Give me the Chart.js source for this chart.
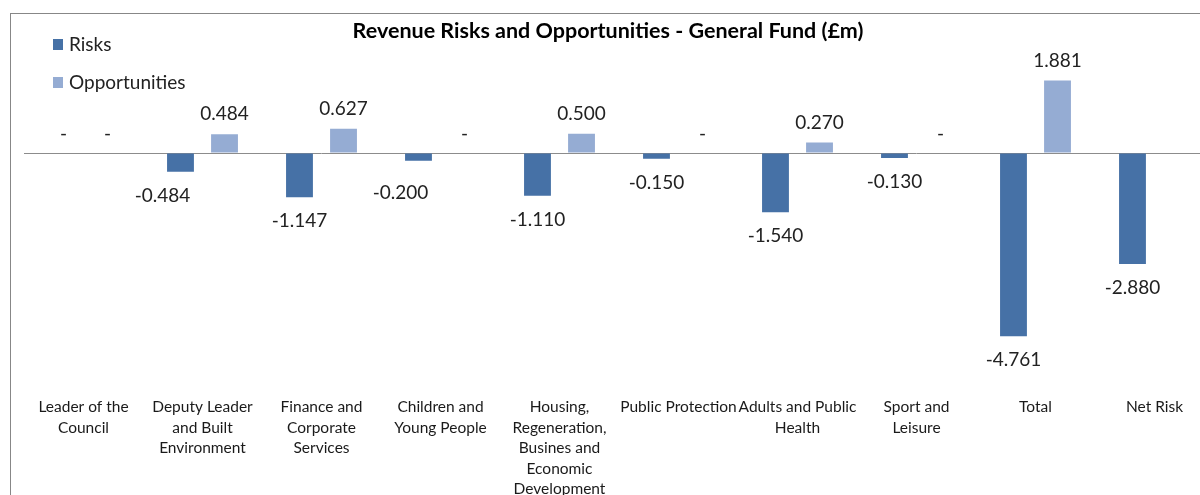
<!DOCTYPE html>
<html><head><meta charset="utf-8">
<script src="https://cdn.jsdelivr.net/npm/chart.js@4/dist/chart.umd.min.js"></script>
<style>
html,body{margin:0;padding:0;width:1200px;height:495px;overflow:hidden;background:#fff;}
#wrap{position:absolute;left:0;top:0;width:1216px;height:500px;}
#frame{position:absolute;left:10px;top:13px;width:1300px;height:600px;border-left:1px solid #878787;border-top:1px solid #878787;}
</style></head><body>
<div id="frame"></div>
<div id="wrap"><canvas id="c"></canvas></div>
<script>
const categories = [
  ["Leader of the","Council"],
  ["Deputy Leader","and Built","Environment"],
  ["Finance and","Corporate","Services"],
  ["Children and","Young People"],
  ["Housing,","Regeneration,","Busines and","Economic","Development"],
  ["Public Protection"],
  ["Adults and Public","Health"],
  ["Sport and","Leisure"],
  ["Total"],
  ["Net Risk"]
];
const risks = [0, -0.484, -1.147, -0.200, -1.110, -0.150, -1.540, -0.130, -4.761, -2.880];
const opportunities = [0, 0.484, 0.627, 0, 0.500, 0, 0.270, 0, 1.881, null];
const seriesNames = ["Risks", "Opportunities"];
const seriesColors = ["#4671a6", "#95acd3"];
const titleText = "Revenue Risks and Opportunities - General Fund (£m)";

const FONT = "Lato, 'Open Sans', sans-serif";

const valueLabels = {
  id: 'valueLabels',
  afterDatasetsDraw(chart, args, opts) {
    const ctx = chart.ctx;
    const zeroY = chart.scales.y.getPixelForValue(0);
    const nudge = opts.nudge || {};
    ctx.save();
    ctx.font = "19px " + FONT;
    ctx.fillStyle = "#222";
    ctx.textAlign = "center";
    ctx.textBaseline = "middle";
    chart.data.datasets.forEach((ds, di) => {
      const meta = chart.getDatasetMeta(di);
      meta.data.forEach((el, i) => {
        const v = ds.data[i];
        if (v === null || v === undefined) return;
        let text, y, x = el.x;
        if (v === 0) { text = "-"; y = zeroY - 19.5; x += 2; }
        else if (v > 0) { text = v.toFixed(3); y = el.y - 20; }
        else { text = v.toFixed(3); y = el.y + 24; }
        const n = nudge[di + "-" + i];
        if (n) { x += n[0]; y += n[1]; }
        ctx.fillText(text, x, y);
      });
    });
    ctx.restore();
  }
};

const titleLegend = {
  id: 'titleLegend',
  afterDraw(chart) {
    const ctx = chart.ctx;
    ctx.save();
    ctx.font = "bold 21.5px " + FONT;
    ctx.fillStyle = "#000";
    ctx.textAlign = "center";
    ctx.textBaseline = "middle";
    ctx.fillText(titleText, 608, 31);
    ctx.font = "19px " + FONT;
    ctx.textAlign = "left";
    const ys = [45, 83];
    chart.data.datasets.forEach((ds, di) => {
      ctx.fillStyle = ds.backgroundColor;
      ctx.fillRect(53, ys[di] - 6, 10, 11);
      ctx.fillStyle = "#222";
      ctx.fillText(ds.label, 69, ys[di]);
    });
    ctx.restore();
  }
};

new Chart(document.getElementById('c'), {
  type: 'bar',
  data: {
    labels: categories,
    datasets: [
      { label: seriesNames[0], data: risks, backgroundColor: seriesColors[0], categoryPercentage: 0.74, barPercentage: 0.61 },
      { label: seriesNames[1], data: opportunities, backgroundColor: seriesColors[1], categoryPercentage: 0.74, barPercentage: 0.61 }
    ]
  },
  options: {
    responsive: true,
    maintainAspectRatio: false,
    animation: false,
    layout: { padding: { left: 24, right: 2, top: 37.5, bottom: 0 } },
    plugins: {
      legend: { display: false }, title: { display: false }, tooltip: { enabled: false },
      valueLabels: { nudge: { "0-1": [-18, 0], "0-3": [-18, 8] } }
    },
    scales: {
      x: {
        grid: { display: false, drawTicks: false },
        border: { display: false },
        ticks: { autoSkip: false, maxRotation: 0, minRotation: 0, padding: 13, color: "#1a1a1a",
                 font: { family: FONT, size: 15.5, lineHeight: 1.32 } },
        afterFit(s) { s.height = 116; }
      },
      y: {
        min: -6, max: 3,
        ticks: { display: false, stepSize: 1 },
        border: { display: false },
        grid: { drawTicks: false, lineWidth: 1, color: c => (c.tick && c.tick.value === 0) ? "#8c8c8c" : "rgba(0,0,0,0)" },
        afterFit(s) { s.width = 0; }
      }
    }
  },
  plugins: [valueLabels, titleLegend]
});
</script>
</body></html>
